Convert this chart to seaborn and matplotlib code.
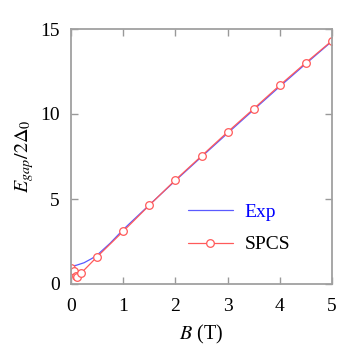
import numpy as np
import pandas as pd
import matplotlib
matplotlib.use("Agg")
import matplotlib.pyplot as plt
import seaborn as sns

# experimental curve
b_exp = [0.0, 0.1, 0.25, 0.4, 0.5, 0.75, 1.0, 1.5, 2.0, 2.5, 3.0, 3.5, 4.0, 4.5, 5.0]
e_exp = [1.05, 1.1, 1.25, 1.5, 1.7, 2.4, 3.2, 4.65, 6.08, 7.48, 8.87, 10.25, 11.62, 12.96, 14.28]

# SPCS calculation
b_spcs = [0.0, 0.05, 0.1, 0.12, 0.2, 0.5, 1.0, 1.5, 2.0, 2.5, 3.0, 3.5, 4.0, 4.5, 5.0]
e_spcs = [0.95, 0.77, 0.5, 0.4, 0.66, 1.6, 3.1, 4.63, 6.12, 7.53, 8.94, 10.31, 11.69, 13.02, 14.31]

sns.set_style("ticks")
plt.rcParams['font.family'] = ['Liberation Serif', 'DejaVu Serif']
plt.rcParams['font.serif'] = ['Liberation Serif', 'DejaVu Serif']
plt.rcParams['mathtext.fontset'] = 'stix'
plt.rcParams['text.color'] = 'black'
plt.rcParams['axes.labelcolor'] = 'black'

fig = plt.figure(figsize=(3.54, 3.57), dpi=100)
ax = fig.add_axes([71/354, 1-284/357, 261/354, 255/357])

df_exp = pd.DataFrame({"B": b_exp, "E": e_exp})
df_spcs = pd.DataFrame({"B": b_spcs, "E": e_spcs})

sns.lineplot(data=df_exp, x="B", y="E", ax=ax, color="#5a5aff", lw=0.9, label="Exp")
sns.lineplot(data=df_spcs, x="B", y="E", ax=ax, color="#ff5a5a", lw=0.9,
             marker="o", markersize=5.5, markerfacecolor="white",
             markeredgecolor="#ff5a5a", markeredgewidth=0.9, label="SPCS")

ax.set_xlim(0, 5)
ax.set_ylim(0, 15)
ax.set_xticks(range(6))
ax.set_yticks([0, 5, 10, 15])
ax.set_xticklabels([str(v) for v in range(6)], fontfamily="Liberation Serif")
ax.set_yticklabels(["0", "5", "10", "15"], fontfamily="Liberation Serif")
ax.tick_params(direction="in", length=5, width=1, color="#999999",
               top=True, right=True, labelsize=14, labelcolor="black", pad=10)
ax.tick_params(axis="y", pad=8)
for s in ax.spines.values():
    s.set_color("#a0a0a0")
    s.set_linewidth(1.3)

ax.set_xlabel(r"$B$ (T)", fontsize=14.5, labelpad=6)
ax.set_ylabel(r"$E_{gap}/2\mathit{\Delta}_0$", fontsize=14.5, labelpad=3)

leg = ax.legend(loc="upper left", frameon=False, fontsize=14, handlelength=2.3,
                handletextpad=0.6, labelspacing=0.75, borderpad=0, borderaxespad=0,
                bbox_to_anchor=(0.448, 0.315))
leg.get_texts()[0].set_color("blue")

fig.savefig("out.png", dpi=100)
